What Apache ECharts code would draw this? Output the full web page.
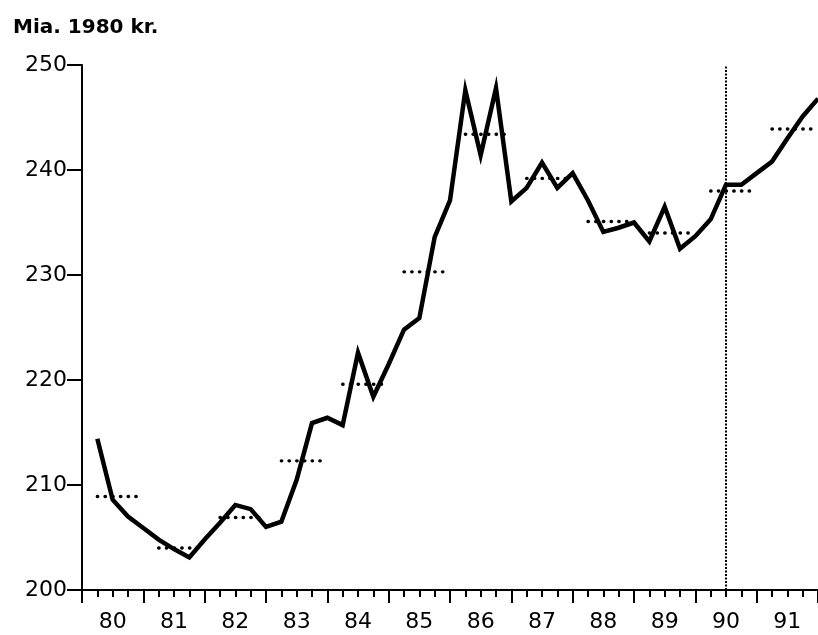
<!DOCTYPE html>
<html>
<head>
<meta charset="utf-8">
<script src="https://cdn.jsdelivr.net/npm/echarts@6/dist/echarts.min.js"></script>
<style>
  html, body { margin: 0; padding: 0; background: #fff; }
  #chart { width: 818px; height: 635px; }
</style>
</head>
<body>
<div id="chart"></div>
<script>
// år (aksetekster)
const years = ['80', '81', '82', '83', '84', '85', '86', '87', '88', '89', '90', '91']
const firstYear = 1980

// kvartalstal, mia. 1980 kr. (4 pr. år)
const quarterly = [
  214.4, 208.6, 207.0, 205.9,
  204.8, 203.9, 203.1, 204.8,
  206.4, 208.1, 207.7, 206.0,
  206.5, 210.5, 215.9, 216.4,
  215.7, 222.6, 218.4, 221.5,
  224.8, 225.9, 233.6, 237.1,
  247.6, 241.4, 247.8, 237.0,
  238.3, 240.7, 238.3, 239.7,
  237.1, 234.1, 234.5, 235.0,
  233.2, 236.5, 232.5, 233.7,
  235.3, 238.6, 238.6, 239.7,
  240.8, 243.0, 245.1, 246.8
]

// årsgennemsnit (prikkede streger)
const annual = [208.9, 204.0, 206.9, 212.3, 219.6, 230.3, 243.4, 239.2, 235.1, 234.0, 238.0, 243.9]

// lodret skillelinje (prognose)
const forecastStart = 1990.5

const yTicks = { min: 200, max: 250, step: 10 }

// kvartal i -> x-position (kvartalets slutning)
const qx = i => firstYear + (i + 1) / 4
const lineData = quarterly.map((v, i) => [qx(i), v])

const avgSeries = annual.map((a, k) => ({
  type: 'line',
  xAxisIndex: 0,
  symbol: 'none',
  silent: true,
  lineStyle: { color: '#000', width: 3.4, type: [0.4, 7.3], cap: 'round' },
  data: [[qx(k * 4), a], [qx(k * 4 + 3), a]],
  z: 1
}))

const chart = echarts.init(document.getElementById('chart'))
const font = 'DejaVu Sans'

const option = {
  backgroundColor: '#fff',
  animation: false,
  title: {
    text: 'Mia. 1980 kr.',
    left: 8,
    top: 13,
    textStyle: { fontFamily: font, fontSize: 20, fontWeight: 'bold', color: '#000' }
  },
  grid: { left: 82, top: 65, width: 738, height: 525 },
  xAxis: [
    {
      type: 'value',
      min: firstYear,
      max: firstYear + years.length,
      interval: 1,
      position: 'bottom',
      axisLine: { lineStyle: { color: '#000', width: 2 } },
      axisTick: { length: 13, lineStyle: { color: '#000', width: 2 } },
      minorTick: { show: true, splitNumber: 4, length: 7, lineStyle: { color: '#000', width: 2 } },
      axisLabel: { show: false },
      splitLine: { show: false }
    },
    {
      type: 'category',
      data: years,
      position: 'bottom',
      boundaryGap: true,
      axisLine: { show: false },
      axisTick: { show: false },
      axisLabel: { fontFamily: font, fontSize: 22, color: '#000', margin: 21 },
      splitLine: { show: false }
    }
  ],
  yAxis: {
    type: 'value',
    min: yTicks.min,
    max: yTicks.max,
    interval: yTicks.step,
    axisLine: { show: true, lineStyle: { color: '#000', width: 2 } },
    axisTick: { show: true, length: 15, lineStyle: { color: '#000', width: 2 } },
    axisLabel: { fontFamily: font, fontSize: 22, color: '#000', margin: 15 },
    splitLine: { show: false }
  },
  series: [
    {
      type: 'line',
      xAxisIndex: 0,
      symbol: 'none',
      lineStyle: { color: '#000', width: 4.5, join: 'miter' },
      data: lineData,
      z: 3,
      markLine: {
        silent: true,
        symbol: 'none',
        label: { show: false },
        lineStyle: { color: '#000', width: 2, type: [2, 1.5] },
        data: [{ xAxis: forecastStart }]
      }
    },
    ...avgSeries
  ]
}

chart.setOption(option)
</script>
</body>
</html>
